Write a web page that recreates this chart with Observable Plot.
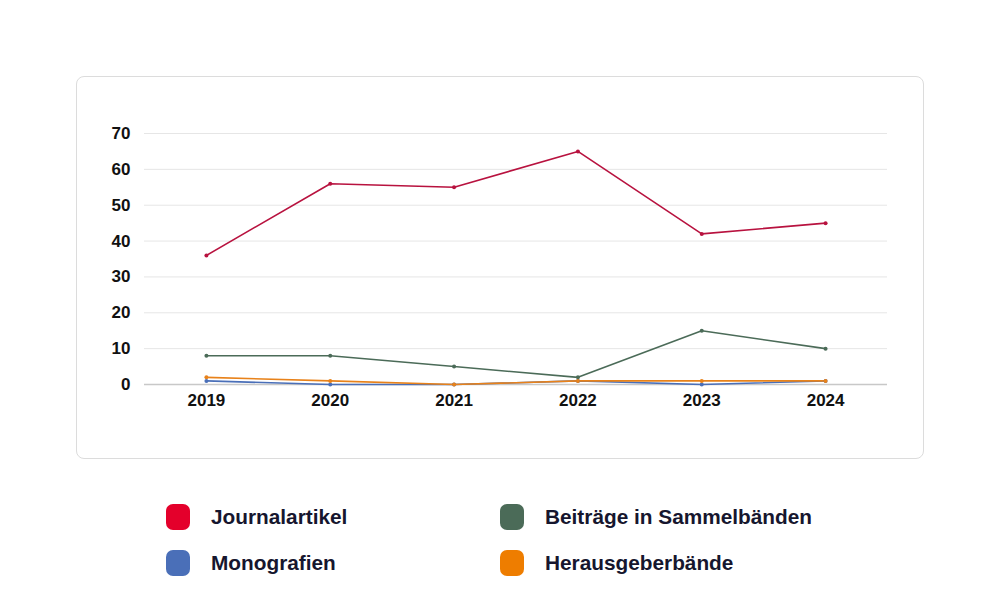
<!DOCTYPE html>
<html><head><meta charset="utf-8">
<script src="https://cdn.jsdelivr.net/npm/d3@7"></script>
<script src="https://cdn.jsdelivr.net/npm/@observablehq/plot@0.6"></script>
<style>
body{margin:0;background:#fff;font-family:"Liberation Sans",Arial,sans-serif;}
#wrap{position:relative;width:1000px;height:615px;overflow:hidden;}
#card{position:absolute;left:76px;top:76px;width:846px;height:381px;border:1.5px solid #dcdcdc;border-radius:8px;}
#chart{position:absolute;left:0;top:0;}
.leg{position:absolute;display:flex;align-items:center;font-weight:bold;font-size:20.8px;color:#16162e;}
.sw{width:24px;height:26px;border-radius:7px;margin-right:21px;}
</style></head>
<body><div id="wrap"><div id="card"></div><div id="chart"></div><div id="legend"></div></div>
<script>
const years = ["2019","2020","2021","2022","2023","2024"];
const seriesNames = ["Journalartikel","Beiträge in Sammelbänden","Monografien","Herausgeberbände"];
const journalartikel = [36,56,55,65,42,45];
const beitraege = [8,8,5,2,15,10];
const monografien = [1,0,0,1,0,1];
const herausgeberbaende = [2,1,0,1,1,1];
const yTicks = [0,10,20,30,40,50,60,70];
const lineColors = ["#b8123f","#4b6b58","#4a6fb8","#e8821a"];
const swatchColors = ["#e4002b","#4b6b58","#4a6fb8","#ee7d00"];

const valuesBySeries = [journalartikel,beitraege,monografien,herausgeberbaende];
const data = [];
const order = [2,3,1,0];
order.forEach(si => years.forEach((y,i) => data.push({series:seriesNames[si], year:y, value:valuesBySeries[si][i]})));

const plot = Plot.plot({
  width:1000, height:460,
  marginLeft:144, marginRight:113, marginTop:133, marginBottom:76,
  style:{fontFamily:'"Liberation Sans",Arial,sans-serif', fontSize:"17px", fontWeight:"bold", color:"#111", background:"transparent"},
  x:{type:"point", domain:years, padding:0.5, round:false, label:null},
  y:{domain:[0,70], ticks:yTicks, label:null},
  color:{domain:seriesNames, range:lineColors},
  marks:[
    Plot.gridY(yTicks.filter(d=>d>0), {stroke:"#e6e6e6", strokeOpacity:1, strokeWidth:1}),
    Plot.ruleY([0], {stroke:"#c8c8c8", strokeWidth:1.5}),
    Plot.axisY({ticks:yTicks, tickSize:0, tickPadding:14, label:null, fontWeight:"bold"}),
    Plot.axisX({tickSize:0, tickPadding:9, label:null, fontWeight:"bold"}),
    Plot.line(data, {x:"year", y:"value", z:"series", stroke:"series", strokeWidth:1.6}),
    Plot.dot(data, {x:"year", y:"value", fill:"series", r:2})
  ]
});
document.getElementById("chart").appendChild(plot);

const legPos = [[166,504],[500,504],[166,550],[500,550]];
const legend = document.getElementById("legend");
seriesNames.forEach((name,i)=>{
  const d = document.createElement("div");
  d.className="leg";
  d.style.left=legPos[i][0]+"px"; d.style.top=legPos[i][1]+"px";
  const sw=document.createElement("div"); sw.className="sw"; sw.style.background=swatchColors[i];
  const t=document.createElement("span"); t.textContent=name;
  d.appendChild(sw); d.appendChild(t); legend.appendChild(d);
});
</script></body></html>
